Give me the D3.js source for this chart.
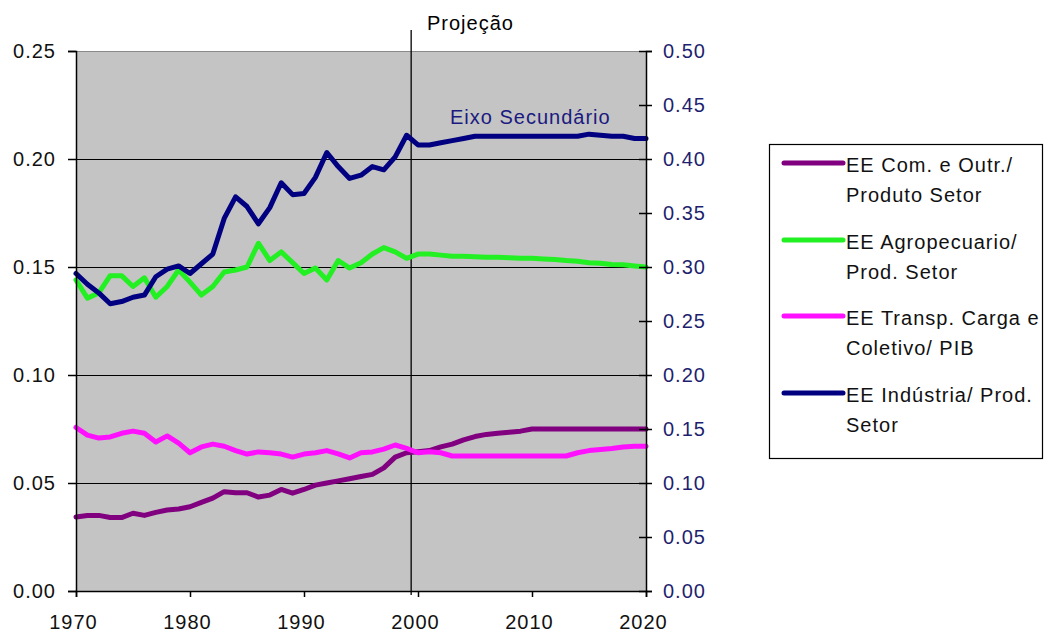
<!DOCTYPE html>
<html>
<head>
<meta charset="utf-8">
<script src="https://cdn.jsdelivr.net/npm/d3@7"></script>
<style>
  body { margin: 0; background: #fff; }
  svg text { font-family: "Liberation Sans", Arial, sans-serif; letter-spacing: 1px; }
</style>
</head>
<body>
<svg id="chart" width="1045" height="635"></svg>
<script>
// Annual series 1970–2020 (projection after ~1999)
const years = d3.range(1970, 2021);

// EE Com. e Outr./Produto Setor (primary axis)
const comercio = [
  0.0343, 0.035, 0.035, 0.034, 0.034, 0.036, 0.035, 0.0364, 0.0375, 0.038,
  0.039, 0.041, 0.043, 0.046, 0.0455, 0.0455, 0.0435, 0.0444, 0.047, 0.0453,
  0.047, 0.049, 0.050, 0.051, 0.052, 0.053, 0.054, 0.057, 0.062, 0.064,
  0.0645, 0.065, 0.0667, 0.068, 0.070, 0.0715, 0.0725, 0.073, 0.0735, 0.074,
  0.075, 0.075, 0.075, 0.075, 0.075, 0.075, 0.075, 0.075, 0.075, 0.075, 0.075
];

// EE Agropecuario/Prod. Setor (primary axis)
const agro = [
  0.144, 0.1356, 0.138, 0.146, 0.146, 0.141, 0.145, 0.136, 0.141, 0.1486,
  0.143, 0.137, 0.141, 0.1477, 0.1486, 0.150, 0.161, 0.153, 0.157, 0.152,
  0.147, 0.1495, 0.144, 0.153, 0.1495, 0.152, 0.156, 0.159, 0.157, 0.154,
  0.156, 0.156, 0.1555, 0.155, 0.155, 0.1548, 0.1545, 0.1545, 0.1543, 0.154,
  0.154, 0.1537, 0.1535, 0.153, 0.1527, 0.152, 0.1517, 0.1512, 0.151, 0.1505, 0.150
];

// EE Transp. Carga e Coletivo/PIB (primary axis)
const transporte = [
  0.0757, 0.0722, 0.0708, 0.0713, 0.073, 0.074, 0.073, 0.069, 0.0718, 0.0685,
  0.064, 0.0667, 0.068, 0.067, 0.065, 0.0634, 0.0644, 0.064, 0.0634, 0.062,
  0.0634, 0.064, 0.065, 0.0635, 0.0616, 0.064, 0.0644, 0.0657, 0.0676, 0.066,
  0.064, 0.0645, 0.064, 0.0625, 0.0625, 0.0625, 0.0625, 0.0625, 0.0625, 0.0625,
  0.0625, 0.0625, 0.0625, 0.0625, 0.064, 0.065, 0.0655, 0.066, 0.0667, 0.067, 0.067
];

// EE Indústria/Prod. Setor (secondary axis)
const industria = [
  0.294, 0.284, 0.276, 0.266, 0.268, 0.272, 0.274, 0.291, 0.298, 0.301,
  0.294, 0.303, 0.312, 0.345, 0.365, 0.356, 0.340, 0.355, 0.378, 0.367,
  0.368, 0.383, 0.406, 0.393, 0.382, 0.385, 0.393, 0.390, 0.402, 0.422,
  0.413, 0.413, 0.415, 0.417, 0.419, 0.421, 0.421, 0.421, 0.421, 0.421,
  0.421, 0.421, 0.421, 0.421, 0.421, 0.423, 0.422, 0.421, 0.421, 0.419, 0.419
];

const xTicks = [1970, 1980, 1990, 2000, 2010, 2020];
const yTicksLeft = [0, 0.05, 0.10, 0.15, 0.20, 0.25];
const yTicksRight = [0, 0.05, 0.10, 0.15, 0.20, 0.25, 0.30, 0.35, 0.40, 0.45, 0.50];
const projectionYear = 1999.4;

const seriesNames = [
  ["EE Com. e Outr./", "Produto Setor"],
  ["EE Agropecuario/", "Prod. Setor"],
  ["EE Transp. Carga e", "Coletivo/ PIB"],
  ["EE Indústria/ Prod.", "Setor"]
];
const seriesColors = ["#800080", "#22f022", "#ff10ff", "#000080"];

const svg = d3.select("#chart");
const plotL = 76, plotR = 646, plotT = 51, plotB = 591;
const fontSize = 20;

const x = d3.scaleLinear().domain([1970, 2020]).range([plotL, plotR]);
const y = d3.scaleLinear().domain([0, 0.25]).range([plotB, plotT]);
const y2 = d3.scaleLinear().domain([0, 0.5]).range([plotB, plotT]);

// plot area
svg.append("rect")
  .attr("x", plotL).attr("y", plotT)
  .attr("width", plotR - plotL).attr("height", plotB - plotT)
  .attr("fill", "#c4c4c4");
svg.append("line")
  .attr("x1", plotL).attr("x2", plotR).attr("y1", plotT + 0.5).attr("y2", plotT + 0.5)
  .attr("stroke", "#8a8a8a").attr("stroke-width", 1);

// horizontal gridlines
svg.append("g")
  .selectAll("line")
  .data(yTicksLeft.filter(v => v > 0 && v < 0.25))
  .join("line")
  .attr("x1", plotL).attr("x2", plotR)
  .attr("y1", d => Math.round(y(d)) + 0.5).attr("y2", d => Math.round(y(d)) + 0.5)
  .attr("stroke", "#000").attr("stroke-width", 1.2);

// projection divider
svg.append("line")
  .attr("x1", x(projectionYear)).attr("x2", x(projectionYear))
  .attr("y1", 30).attr("y2", plotB + 4)
  .attr("stroke", "#000").attr("stroke-width", 1.3);
svg.append("text")
  .attr("x", 427).attr("y", 30)
  .attr("font-size", fontSize).attr("fill", "#000")
  .text("Projeção");

// series
const line1 = d3.line().x((d, i) => x(years[i])).y(d => y(d));
const line2 = d3.line().x((d, i) => x(years[i])).y(d => y2(d));
const plotted = [
  { values: comercio, gen: line1 },
  { values: agro, gen: line1 },
  { values: transporte, gen: line1 },
  { values: industria, gen: line2 }
];
svg.append("g")
  .selectAll("path")
  .data(plotted)
  .join("path")
  .attr("d", d => d.gen(d.values))
  .attr("fill", "none")
  .attr("stroke", (d, i) => seriesColors[i])
  .attr("stroke-width", 5)
  .attr("stroke-linejoin", "round")
  .attr("stroke-linecap", "round");

svg.append("text")
  .attr("x", 450).attr("y", 124)
  .attr("font-size", fontSize).attr("fill", "#1a1a80")
  .text("Eixo Secundário");

// left axis
const axL = svg.append("g")
  .attr("transform", `translate(${plotL},0)`)
  .call(d3.axisLeft(y).tickValues(yTicksLeft).tickFormat(d3.format(".2f")).tickSizeOuter(0).tickSize(8).tickPadding(12));
axL.select(".domain").attr("stroke", "#000").attr("stroke-width", 1.5);
axL.selectAll(".tick line").attr("stroke", "#000").attr("stroke-width", 1.5);
axL.selectAll(".tick text").attr("font-size", fontSize).attr("fill", "#111")
  .style("font-family", "'Liberation Sans', Arial, sans-serif");

// bottom axis
const axB = svg.append("g")
  .attr("transform", `translate(0,${plotB})`)
  .call(d3.axisBottom(x).tickValues(xTicks).tickFormat(d3.format("d")).tickSizeOuter(0).tickSize(6).tickPadding(18));
axB.select(".domain").attr("stroke", "#000").attr("stroke-width", 1.5);
axB.selectAll(".tick line").attr("stroke", "#000").attr("stroke-width", 1.5);
axB.selectAll(".tick text").attr("font-size", fontSize).attr("fill", "#111").attr("dx", -3)
  .style("font-family", "'Liberation Sans', Arial, sans-serif");

// right (secondary) axis with crossing ticks
const axR = svg.append("g")
  .attr("transform", `translate(${plotR},0)`)
  .call(d3.axisRight(y2).tickValues(yTicksRight).tickFormat(d3.format(".2f")).tickSizeOuter(0).tickSize(6).tickPadding(11));
axR.select(".domain").attr("stroke", "#000").attr("stroke-width", 1.5);
axR.selectAll(".tick line").attr("x1", -7).attr("stroke", "#000").attr("stroke-width", 1.5);
axR.selectAll(".tick text").attr("font-size", fontSize).attr("fill", "#1f1f70")
  .style("font-family", "'Liberation Sans', Arial, sans-serif");

// legend
const lg = svg.append("g");
lg.append("rect")
  .attr("x", 769.5).attr("y", 144.5).attr("width", 273).attr("height", 314)
  .attr("fill", "#fff").attr("stroke", "#000").attr("stroke-width", 1.2);
const rowY = [163, 240, 316, 393];
const items = lg.selectAll("g.item")
  .data(seriesNames)
  .join("g")
  .attr("class", "item")
  .attr("transform", (d, i) => `translate(0,${rowY[i]})`);
items.append("line")
  .attr("x1", 784).attr("x2", 843).attr("y1", 0).attr("y2", 0)
  .attr("stroke", (d, i) => seriesColors[i])
  .attr("stroke-width", 5).attr("stroke-linecap", "round");
items.each(function(d) {
  const t = d3.select(this).append("text")
    .attr("x", 846).attr("y", 9).attr("font-size", fontSize).attr("fill", "#111");
  t.append("tspan").attr("x", 846).attr("dy", 0).text(d[0]);
  t.append("tspan").attr("x", 846).attr("dy", 30).text(d[1]);
});
</script>
</body>
</html>
